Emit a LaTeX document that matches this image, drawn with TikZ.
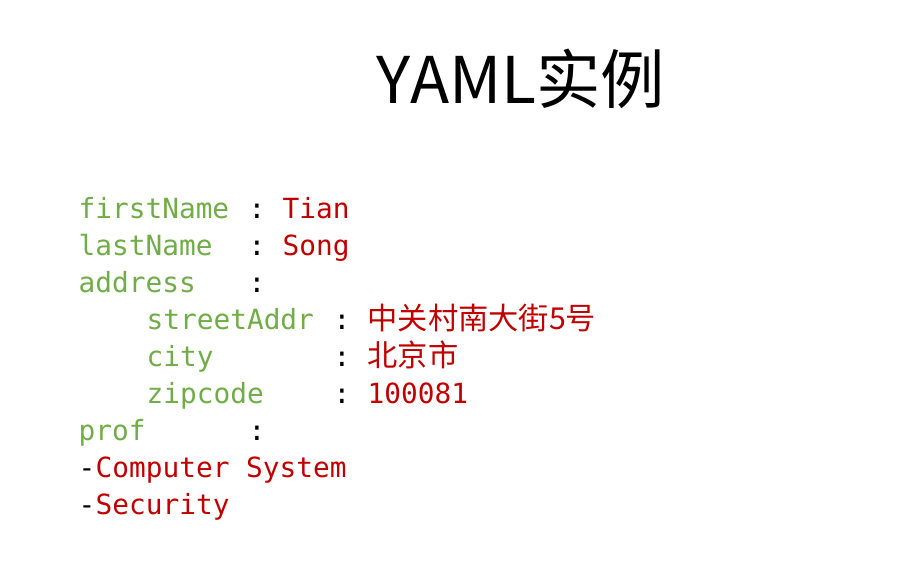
\documentclass[tikz,border=0pt]{standalone}
\usepackage{fontspec}
\setmonofont{DejaVu Sans Mono}
\newfontfamily\cjk{Noto Sans CJK SC}
\definecolor{kgreen}{RGB}{112,173,71}
\definecolor{vred}{RGB}{192,0,0}
\begin{document}
\begin{tikzpicture}[x=0.01cm,y=-0.01cm,
  code/.style={anchor=base west,inner sep=0,font=\ttfamily\fontsize{7.9}{9}\selectfont},
  key/.style={code,text=kgreen},
  val/.style={code,text=vred},
  col/.style={code,text=black}]
\useasboundingbox (0,0) rectangle (911,581);
\node[anchor=base,inner sep=0,font=\cjk\fontsize{18.3}{22}\selectfont] (title) at (521,103) {YAML实例};
\node[key] (k1) at (78,218) {firstName};
\node[col] (c1) at (248,218) {:};
\node[val] (v1) at (282,218) {Tian};
\node[key] (k2) at (78,255) {lastName};
\node[col] (c2) at (248,255) {:};
\node[val] (v2) at (282,255) {Song};
\node[key] (k3) at (78,292) {address};
\node[col] (c3) at (248,292) {:};
\node[key] (k4) at (146,329) {streetAddr};
\node[col] (c4) at (333,329) {:};
\node[val,font=\cjk\fontsize{8.6}{9}\selectfont] (v4) at (367,329) {中关村南大街5号};
\node[key] (k5) at (146,366) {city};
\node[col] (c5) at (333,366) {:};
\node[val,font=\cjk\fontsize{8.6}{9}\selectfont] (v5) at (367,366) {北京市};
\node[key] (k6) at (146,403) {zipcode};
\node[col] (c6) at (333,403) {:};
\node[val] (v6) at (367,403) {100081};
\node[key] (k7) at (78,440) {prof};
\node[col] (c7) at (248,440) {:};
\node[col] (d1) at (78,477) {-};
\node[val] (v8) at (95,477) {Computer System};
\node[col] (d2) at (78,514) {-};
\node[val] (v9) at (95,514) {Security};
\end{tikzpicture}
\end{document}
